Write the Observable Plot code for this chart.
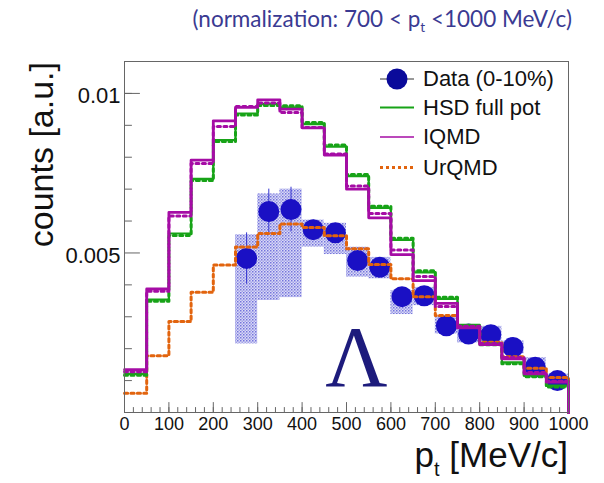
<!DOCTYPE html>
<html>
<head>
<meta charset="utf-8">
<script src="https://cdn.jsdelivr.net/npm/d3@7"></script>
<script src="https://cdn.jsdelivr.net/npm/@observablehq/plot@0.6"></script>
<style>
  body { margin: 0; background: #fff; }
  #title { position: relative; height: 40px; width: 604px; }
  #title span {
    position: absolute; right: 32px; top: 8px; line-height: 22px;
    font-family: Lato, "Open Sans", sans-serif; font-size: 22.5px; color: #3a3a92; white-space: nowrap;
  }
  #title sub { font-size: 0.6em; vertical-align: -0.35em; }
  #chart svg { display: block; }
</style>
</head>
<body>
<svg width="0" height="0" style="position:absolute">
  <defs>
    <pattern id="sysHatch" width="3" height="3" patternUnits="userSpaceOnUse">
      <rect width="3" height="3" fill="#dadaf6"></rect>
      <rect width="1.5" height="1.5" fill="#7474dc"></rect>
      <rect x="1.5" y="1.5" width="1.5" height="1.5" fill="#a2a2e8"></rect>
    </pattern>
  </defs>
</svg>
<div id="title"><span>(normalization: 700 &lt; p<sub>t</sub> &lt;1000 MeV/c)</span></div>
<div id="chart"></div>
<script>
// pt bin edges (MeV/c), 50 MeV/c wide
const binEdges = [0, 50, 100, 150, 200, 250, 300, 350, 400, 450, 500,
                  550, 600, 650, 700, 750, 800, 850, 900, 950, 1000];

// model histograms, one value per bin
const hsd = [0.00121, 0.00354, 0.00561, 0.00732, 0.00854, 0.00937, 0.00967, 0.00956, 0.00904, 0.00833,
             0.00741, 0.00641, 0.00541, 0.00439, 0.00356, 0.00275, 0.00216, 0.00157, 0.00116, 0.00084];
const hsdAlt = [0.00117, 0.00349, 0.00555, 0.00727, 0.00849, 0.00932, 0.00962, 0.00961, 0.00909, 0.00838,
                0.00746, 0.00646, 0.00546, 0.00444, 0.00361, 0.00271, 0.00212, 0.00153, 0.00112, 0.00080];
const iqmd = [0.00134, 0.00387, 0.00627, 0.00791, 0.00914, 0.00956, 0.00980, 0.00951, 0.00892, 0.00807,
              0.00700, 0.00610, 0.00495, 0.00413, 0.00342, 0.00265, 0.00213, 0.00168, 0.00121, 0.00095];
const iqmdAlt = [0.00128, 0.00380, 0.00616, 0.00780, 0.00896, 0.00959, 0.00970, 0.00940, 0.00893, 0.00810,
                 0.00710, 0.00624, 0.00509, 0.00426, 0.00332, 0.00270, 0.00216, 0.00172, 0.00125, 0.00098];
const urqmd = [0.00060, 0.00178, 0.00285, 0.00377, 0.00462, 0.00519, 0.00561, 0.00591, 0.00580, 0.00554,
               0.00513, 0.00464, 0.00419, 0.00363, 0.00304, 0.00272, 0.00220, 0.00175, 0.00139, 0.00110];

// measured Lambda spectrum (0-10%), bins 250-1000 MeV/c
const dataPt = [275, 325, 375, 425, 475, 525, 575, 625, 675, 725, 775, 825, 875, 925, 975];
const dataY = [0.00483, 0.00630, 0.00636, 0.00573, 0.00563, 0.00476, 0.00455, 0.00363,
               0.00366, 0.00272, 0.00246, 0.00244, 0.00204, 0.00142, 0.00100];
const statErr = [0.00080, 0.00070, 0.00070, 0.00030, 0.00025, 0.00020, 0.00020, 0.00015,
                 0.00015, 0.00012, 0.00012, 0.00012, 0.00010, 0.00010, 0.00010];
const sysLo = [0.00215, 0.00351, 0.00360, 0.00518, 0.00495, 0.00424, 0.00419, 0.00307,
               0.00335, 0.00246, 0.00218, 0.00220, 0.00184, 0.00110, 0.00080];
const sysHi = [0.00557, 0.00685, 0.00700, 0.00603, 0.00593, 0.00518, 0.00486, 0.00382,
               0.00392, 0.00302, 0.00275, 0.00270, 0.00224, 0.00172, 0.00120];

// axis ticks
const xMajor = [0, 100, 200, 300, 400, 500, 600, 700, 800, 900, 1000];
const xMinor = d3.range(0, 1001, 20);
const yMajor = [0.005, 0.01];
const yMajorLabels = ["0.005", "0.01"];
const yMinor = [0.001, 0.002, 0.003, 0.004, 0.006, 0.007, 0.008, 0.009, 0.010];

const colors = { hsd: "#17a317", iqmd: "#a50ca5", urqmd: "#e2640e", data: "#1a10c4" };

// histogram outline: step through every bin, then drop to zero at the last edge
function steps(values) {
  const pts = values.map((v, i) => ({ x: binEdges[i], y: v }));
  const last = binEdges[binEdges.length - 1];
  pts.push({ x: last, y: values[values.length - 1] });
  pts.push({ x: last, y: 0 });
  return pts;
}

const points = dataPt.map((pt, i) => ({
  pt, y: dataY[i], stat: statErr[i], lo: pt - 25, hi: pt + 25, sysLo: sysLo[i], sysHi: sysHi[i]
}));

const tickShape = { draw(ctx, l) { ctx.moveTo(0, 0); ctx.lineTo(0, -l); } };

const chart = Plot.plot({
  width: 604,
  height: 443,
  marginTop: 21,
  marginBottom: 71,
  marginLeft: 124,
  marginRight: 36,
  x: { domain: [0, 1000] },
  y: { domain: [0, 0.011] },
  style: { fontFamily: "'Liberation Sans', Arial, sans-serif", background: "white", color: "#111", overflow: "visible" },
  marks: [
    Plot.rect(points, { x1: "lo", x2: "hi", y1: "sysLo", y2: "sysHi", fill: "url(#sysHatch)" }),
    Plot.ruleX(points, { x: "pt", y1: d => d.y - d.stat, y2: d => d.y + d.stat, stroke: "#3434d0", strokeWidth: 1 }),
    Plot.dot(points, { x: "pt", y: "y", r: 10.5, fill: colors.data }),

    Plot.line(steps(urqmd), { x: "x", y: "y", curve: "step-after", stroke: colors.urqmd, strokeWidth: 3, strokeDasharray: "3.2,3.2" }),
    Plot.line(steps(hsdAlt), { x: "x", y: "y", curve: "step-after", stroke: colors.hsd, strokeWidth: 3, strokeDasharray: "3,3.5" }),
    Plot.line(steps(hsd), { x: "x", y: "y", curve: "step-after", stroke: colors.hsd, strokeWidth: 2.2 }),
    Plot.line(steps(iqmdAlt), { x: "x", y: "y", curve: "step-after", stroke: colors.iqmd, strokeWidth: 3, strokeDasharray: "3,3.5" }),
    Plot.line(steps(iqmd), { x: "x", y: "y", curve: "step-after", stroke: colors.iqmd, strokeWidth: 2.8 }),

    Plot.frame({ stroke: "#666", strokeWidth: 1 }),

    // ticks drawn inward from the axes
    Plot.vector(yMinor, { x: 0, y: d => d, length: 7, rotate: 90, anchor: "start", shape: tickShape, stroke: "#666", strokeWidth: 1 }),
    Plot.vector(yMajor, { x: 0, y: d => d, length: 15, rotate: 90, anchor: "start", shape: tickShape, stroke: "#666", strokeWidth: 1 }),
    Plot.vector(xMinor, { x: d => d, y: 0, length: 5, rotate: 0, anchor: "start", shape: tickShape, stroke: "#666", strokeWidth: 1 }),
    Plot.vector(xMajor, { x: d => d, y: 0, length: 10, rotate: 0, anchor: "start", shape: tickShape, stroke: "#666", strokeWidth: 1 }),

    Plot.axisX({ ticks: xMajor, tickSize: 0, tickPadding: 5, fontSize: 18, label: null, tickFormat: d => String(d) }),
    Plot.axisY({ ticks: yMajor, tickSize: 0, tickPadding: 4, fontSize: 22, label: null, dy: 3,
                 tickFormat: d => yMajorLabels[yMajor.indexOf(d)] }),

    Plot.text(["Λ"], { text: d => d, frameAnchor: "bottom-left", dx: 232, dy: -27, textAnchor: "middle", lineAnchor: "bottom",
                       fontFamily: "'Liberation Serif', 'DejaVu Serif', serif", fontSize: 86, fill: "#1d1b7c" })
  ]
});

const svg = d3.select(chart);

// axis titles
svg.append("text")
  .attr("transform", "translate(53,22) rotate(-90)")
  .attr("text-anchor", "end")
  .attr("font-size", 34)
  .attr("fill", "#111")
  .text("counts [a.u.]");

const xt = svg.append("text")
  .attr("x", 568).attr("y", 427)
  .attr("text-anchor", "end")
  .attr("font-size", 35)
  .attr("fill", "#111");
xt.append("tspan").text("p");
xt.append("tspan").attr("font-size", 20).attr("dy", 9).text("t");
xt.append("tspan").attr("dy", -9).text(" [MeV/c]");

// legend
const lg = svg.append("g").attr("font-size", 22).attr("fill", "#111").attr("text-anchor", "start");
const rows = [
  { label: "Data (0-10%)", y: 39 },
  { label: "HSD full pot", y: 67.5, stroke: colors.hsd, width: 2 },
  { label: "IQMD", y: 97, stroke: colors.iqmd, width: 1.6 },
  { label: "UrQMD", y: 127.5, stroke: colors.urqmd, width: 3, dash: "3,3" }
];
rows.forEach((r, i) => {
  if (i === 0) {
    lg.append("line").attr("x1", 380).attr("x2", 414).attr("y1", r.y).attr("y2", r.y).attr("stroke", "#333").attr("stroke-width", 1);
    lg.append("circle").attr("cx", 397).attr("cy", r.y).attr("r", 10.5).attr("fill", "#0a0a9a");
  } else {
    lg.append("line").attr("x1", 380).attr("x2", 414).attr("y1", r.y).attr("y2", r.y)
      .attr("stroke", r.stroke).attr("stroke-width", r.width).attr("stroke-dasharray", r.dash || null);
  }
  lg.append("text").attr("x", 423).attr("y", r.y + 7).attr("text-anchor", "start").text(r.label);
});

document.getElementById("chart").appendChild(chart);
</script>
</body>
</html>
